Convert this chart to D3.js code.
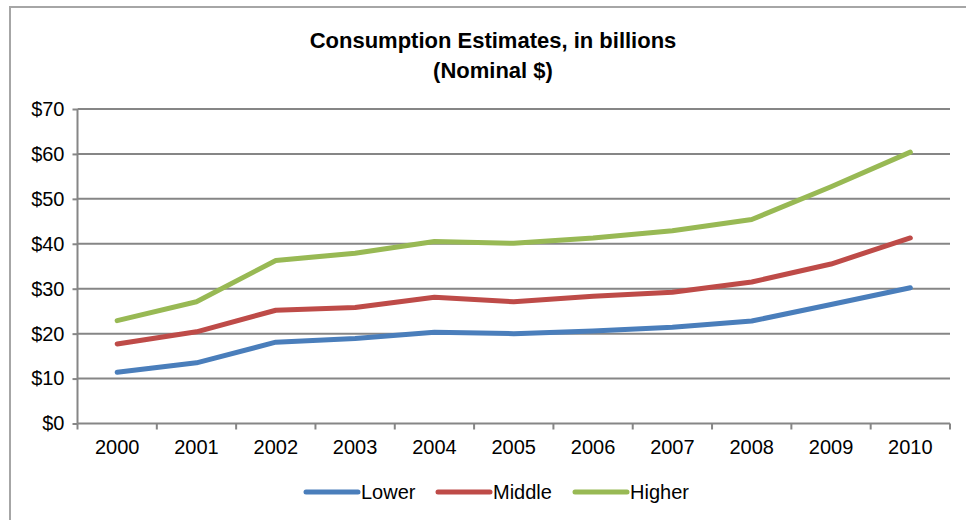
<!DOCTYPE html>
<html>
<head>
<meta charset="utf-8">
<script src="https://cdn.jsdelivr.net/npm/d3@7"></script>
<style>
  body { margin: 0; background: #fff; }
  svg { display: block; font-family: "Liberation Sans", Arial, sans-serif; }
</style>
</head>
<body>
<svg id="chart" width="966" height="520"></svg>
<script>
// data
const years  = ["2000","2001","2002","2003","2004","2005","2006","2007","2008","2009","2010"];
const lower  = [11.4, 13.5, 18.1, 18.9, 20.3, 20.0, 20.6, 21.4, 22.8, 26.5, 30.2];
const middle = [17.7, 20.4, 25.2, 25.8, 28.1, 27.1, 28.3, 29.2, 31.5, 35.5, 41.3];
const higher = [22.9, 27.1, 36.3, 37.9, 40.5, 40.1, 41.3, 42.9, 45.4, 52.7, 60.4];
const yTicks = [0, 10, 20, 30, 40, 50, 60, 70];

const series = [
  { name: "Lower",  values: lower,  color: "#4a7ebb" },
  { name: "Middle", values: middle, color: "#be4b48" },
  { name: "Higher", values: higher, color: "#98b954" }
];

const svg = d3.select("#chart");
const gridCol = "#868686";

// outer chart frame
svg.append("rect")
  .attr("x", 10).attr("y", 7)
  .attr("width", 980).attr("height", 540)
  .attr("fill", "none")
  .attr("stroke", "#a6a6a6")
  .attr("stroke-width", 2);

// title
const title = svg.append("text")
  .attr("text-anchor", "middle")
  .attr("font-size", 22)
  .attr("font-weight", "bold")
  .attr("fill", "#000");
title.append("tspan").attr("x", 493).attr("y", 48).text("Consumption Estimates, in billions");
title.append("tspan").attr("x", 493).attr("y", 78).text("(Nominal $)");

// scales
const plotL = 77.5, plotR = 950, plotT = 109, plotB = 423.5;
const x = d3.scaleBand().domain(years).range([plotL, plotR]);
const y = d3.scaleLinear().domain([0, 70]).range([plotB, plotT]);

// horizontal gridlines
svg.append("g")
  .selectAll("line")
  .data(yTicks.filter(d => d > 0))
  .join("line")
    .attr("x1", plotL).attr("x2", plotR)
    .attr("y1", d => y(d)).attr("y2", d => y(d))
    .attr("stroke", gridCol)
    .attr("stroke-width", 2);

// y axis
const yAxis = svg.append("g")
  .attr("transform", `translate(${plotL},0)`)
  .call(d3.axisLeft(y).tickValues(yTicks).tickSize(5).tickPadding(8).tickFormat(d => "$" + d));
yAxis.selectAll("line").attr("stroke", gridCol).attr("stroke-width", 2);
yAxis.select(".domain").attr("stroke", gridCol).attr("stroke-width", 2)
  .attr("d", `M0,${plotT}V${plotB}`);
yAxis.selectAll("text").attr("font-size", 20).attr("fill", "#000")
  .attr("font-family", "'Liberation Sans', Arial, sans-serif");

// x axis: ticks at category boundaries
const boundaries = years.map(d => x(d)).concat([plotR]);
const xg = svg.append("g");
xg.append("line")
  .attr("x1", plotL).attr("x2", plotR)
  .attr("y1", plotB).attr("y2", plotB)
  .attr("stroke", gridCol).attr("stroke-width", 2);
xg.selectAll("line.tick")
  .data(boundaries)
  .join("line")
    .attr("class", "tick")
    .attr("x1", d => d).attr("x2", d => d)
    .attr("y1", plotB).attr("y2", plotB + 6)
    .attr("stroke", gridCol).attr("stroke-width", 2);
xg.selectAll("text")
  .data(years)
  .join("text")
    .attr("x", d => x(d) + x.bandwidth() / 2)
    .attr("y", 454)
    .attr("text-anchor", "middle")
    .attr("font-size", 20)
    .attr("fill", "#000")
    .text(d => d);

// lines
const line = d3.line()
  .x((d, i) => x(years[i]) + x.bandwidth() / 2)
  .y(d => y(d));

svg.append("g")
  .selectAll("path")
  .data(series)
  .join("path")
    .attr("d", d => line(d.values))
    .attr("fill", "none")
    .attr("stroke", d => d.color)
    .attr("stroke-width", 5)
    .attr("stroke-linejoin", "round")
    .attr("stroke-linecap", "round");

// legend
const legendX = [306, 438, 575];
const lg = svg.append("g")
  .selectAll("g")
  .data(series)
  .join("g")
    .attr("transform", (d, i) => `translate(${legendX[i]},492)`);
lg.append("line")
  .attr("x1", 0).attr("x2", 52)
  .attr("stroke", d => d.color)
  .attr("stroke-width", 5)
  .attr("stroke-linecap", "round");
lg.append("text")
  .attr("x", 55)
  .attr("y", 7)
  .attr("font-size", 20)
  .attr("fill", "#000")
  .text(d => d.name);
</script>
</body>
</html>
